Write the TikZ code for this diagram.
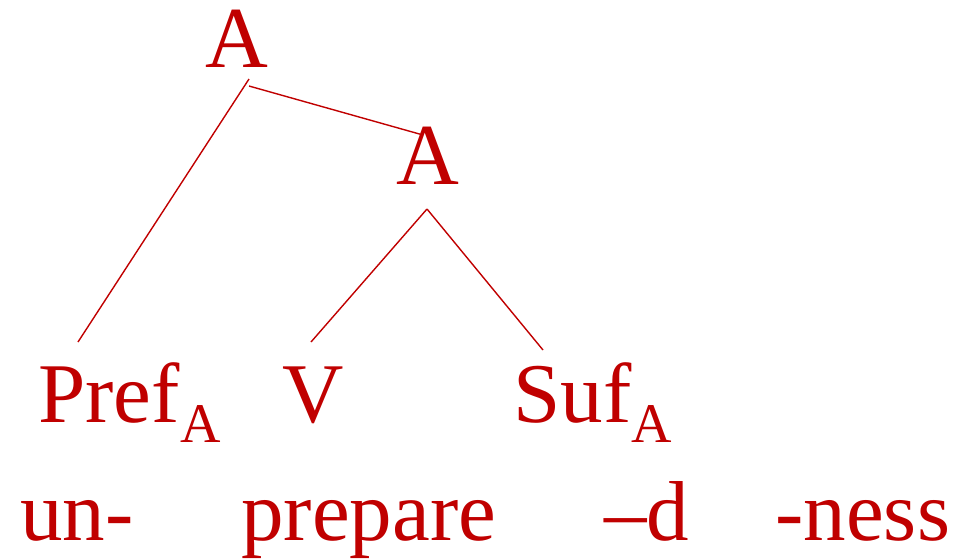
\documentclass[tikz,border=0pt]{standalone}
\usepackage{fontspec}
\setmainfont{Liberation Serif}
\usepackage{xcolor}
\definecolor{treered}{HTML}{C00000}
\usetikzlibrary{positioning}
\tikzset{
  treelab/.style={inner sep=0pt,text=treered,font=\fontsize{42.5}{50}\selectfont},
  treecat/.style={inner sep=0pt,text=treered,font=\fontsize{43.5}{50}\selectfont},
  treeedge/.style={draw=treered,line width=0.7pt},
}
\newcommand{\catsub}[1]{\raisebox{-10pt}{\fontsize{28}{30}\selectfont #1}}

\begin{document}
\begin{tikzpicture}[x=0.5pt,y=-0.5pt]
\useasboundingbox (0,0) rectangle (954,559);
 % categories
\node[treecat,anchor=base] (topA) at (236.5,67) {A};
\node[treecat,anchor=base] (midA) at (428,184) {A};
\node[treelab,anchor=base west] (pref) at (38,422) {Pref\catsub{A}};
\node[treelab,anchor=base] (verb) at (313,422) {V};
\node[treelab,anchor=base west] (suf) at (513,422) {Suf\catsub{A}};
 % morphs
\node[treelab,anchor=base west] (un) at (20,540) {un-};
\node[treelab,anchor=base west] (prep) at (241,540) {prepare};
\node[treelab,anchor=base west] (dd) at (604,540) {\textendash d};
\node[treelab,anchor=base west] (ness) at (775,540) {-ness};
 % branch ends
\coordinate (topA-l) at (249,79);
\coordinate (topA-r) at (249,86);
\coordinate (midA-t) at (423,135);
\coordinate (midA-b) at (427,209);
\coordinate (pref-t) at (78,342);
\coordinate (verb-t) at (311,342);
\coordinate (suf-t) at (543,350);
\draw[treeedge](topA-l)--(pref-t);
\draw[treeedge](topA-r)--(midA-t);
\draw[treeedge](midA-b)--(verb-t);
\draw[treeedge](midA-b)--(suf-t);
\end{tikzpicture}
\end{document}
